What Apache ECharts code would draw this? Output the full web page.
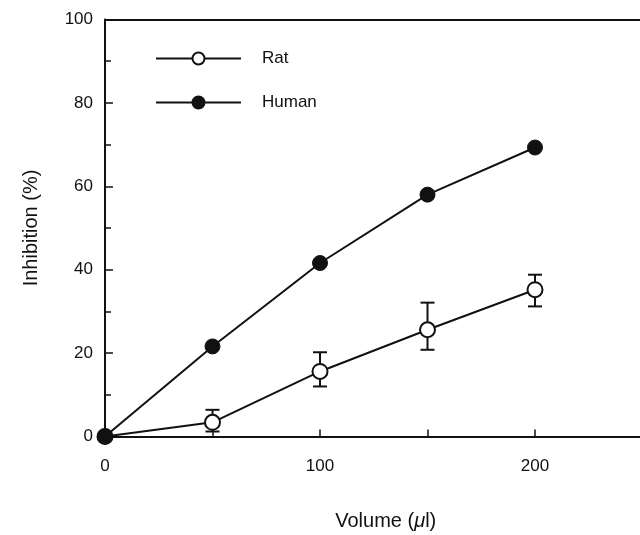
<!DOCTYPE html>
<html><head><meta charset="utf-8">
<script src="https://cdn.jsdelivr.net/npm/echarts@6/dist/echarts.min.js"></script>
<style>html,body{margin:0;padding:0;background:#fff}#c{width:640px;height:535px}</style>
</head><body><div id="c"></div>
<script>
const volumes = [0, 50, 100, 150, 200];
const human = [0, 21.6, 41.6, 58, 69.3];
const rat = [0, 3.4, 15.6, 25.6, 35.2];
const ratLow = [0, 1.2, 12, 20.8, 31.2];
const ratHigh = [0, 6.4, 20.2, 32.1, 38.8];
const xTickLabels = [0, 100, 200];
const yTicks = [0, 20, 40, 60, 80, 100];

const font = 'Liberation Sans, Arial, sans-serif';
const chart = echarts.init(document.getElementById('c'));
const errData = volumes.map((v, i) => [v, ratLow[i], ratHigh[i]]).filter((d, i) => i > 0);

chart.setOption({
  animation: false,
  grid: {left: 105, top: 19.5, width: 537.5, height: 417, outerBoundsMode: 'none', containLabel: false},
  legend: {
    orient: 'vertical', left: 150, top: 45, itemGap: 27, itemWidth: 85, itemHeight: 15,
    textStyle: {fontFamily: font, fontSize: 17, color: '#111', padding: [0, 0, 0, 16]},
    data: ['Rat', 'Human']
  },
  xAxis: [{
    type: 'value', min: 0, max: 250, interval: 50,
    axisLine: {lineStyle: {color: '#111', width: 2}},
    axisTick: {inside: true, length: 7, lineStyle: {color: '#111', width: 1.5}},
    splitLine: {show: false},
    axisLabel: {fontFamily: font, fontSize: 17, color: '#111', margin: 21,
      formatter: v => xTickLabels.indexOf(v) >= 0 ? String(v) : ''},
    name: 'Volume ({i|μ}l)', nameLocation: 'middle', nameGap: 75,
    nameTextStyle: {fontFamily: font, fontSize: 20, color: '#111', padding: [0, 0, 0, 24],
      rich: {i: {fontFamily: font, fontSize: 20, fontStyle: 'italic', color: '#111'}}}
  }, {
    type: 'value', min: 0, max: 250, position: 'top',
    axisLine: {show: true, onZero: false, lineStyle: {color: '#111', width: 2}},
    axisTick: {show: false}, axisLabel: {show: false}, splitLine: {show: false}
  }],
  yAxis: {
    type: 'value', min: 0, max: 100, interval: 20,
    axisLine: {show: true, lineStyle: {color: '#111', width: 2}},
    axisTick: {inside: true, length: 8, lineStyle: {color: '#111', width: 1.5}},
    minorTick: {show: true, splitNumber: 2, length: 6, lineStyle: {color: '#111', width: 1.5}},
    splitLine: {show: false},
    axisLabel: {fontFamily: font, fontSize: 17, color: '#111', margin: 12,
      formatter: v => yTicks.indexOf(v) >= 0 ? String(v) : ''},
    name: 'Inhibition (%)', nameLocation: 'middle', nameGap: 64, nameRotate: 90,
    nameTextStyle: {fontFamily: font, fontSize: 20, color: '#111'}
  },
  series: [{
    type: 'custom', name: 'err', xAxisIndex: 0, yAxisIndex: 0, z: 1,
    data: errData,
    renderItem: (params, api) => {
      const x = api.value(0);
      const lo = api.coord([x, api.value(1)]);
      const hi = api.coord([x, api.value(2)]);
      const w = 7;
      const st = {stroke: '#111', lineWidth: 2};
      return {type: 'group', children: [
        {type: 'line', shape: {x1: lo[0], y1: lo[1], x2: hi[0], y2: hi[1]}, style: st},
        {type: 'line', shape: {x1: lo[0] - w, y1: lo[1], x2: lo[0] + w, y2: lo[1]}, style: st},
        {type: 'line', shape: {x1: hi[0] - w, y1: hi[1], x2: hi[0] + w, y2: hi[1]}, style: st}
      ]};
    }
  }, {
    type: 'line', name: 'Rat', z: 3,
    data: volumes.map((v, i) => [v, rat[i]]),
    symbol: 'circle', symbolSize: 15,
    lineStyle: {color: '#111', width: 2},
    itemStyle: {color: '#fff', borderColor: '#111', borderWidth: 2}
  }, {
    type: 'line', name: 'Human', z: 4,
    data: volumes.map((v, i) => [v, human[i]]),
    symbol: 'circle', symbolSize: 15,
    lineStyle: {color: '#111', width: 2},
    itemStyle: {color: '#111', borderColor: '#111', borderWidth: 1}
  }]
});
</script></body></html>
